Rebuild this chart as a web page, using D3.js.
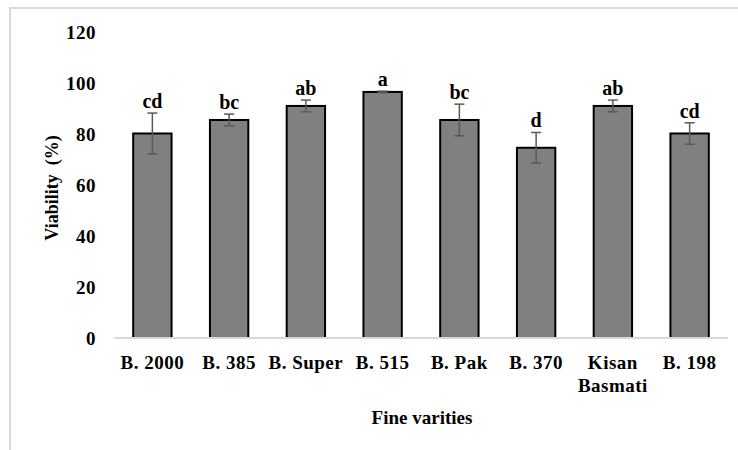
<!DOCTYPE html>
<html>
<head>
<meta charset="utf-8">
<script src="https://cdn.jsdelivr.net/npm/d3@7"></script>
<style>
  body { margin: 0; background: #fff; }
  svg text { font-family: "Liberation Serif", "Times New Roman", Times, "DejaVu Serif", serif; font-weight: bold; fill: #000; }
</style>
</head>
<body>
<div id="chart"></div>
<script>
// data
var varieties = ["B. 2000", "B. 385", "B. Super", "B. 515", "B. Pak", "B. 370", "Kisan Basmati", "B. 198"];
var viability = [80.2, 85.5, 91, 96.5, 85.5, 74.6, 91, 80.2];
var errors = [8, 2.3, 2.3, 0.3, 6.2, 6, 2.3, 4.2];
var letters = ["cd", "bc", "ab", "a", "bc", "d", "ab", "cd"];
var yTicks = [0, 20, 40, 60, 80, 100, 120];

var svgwidth = 738, svgheight = 450;
var margin = {top: 32, left: 114};
var width = 728 - margin.left;
var height = 338 - margin.top;

var svg = d3.select("#chart").append("svg")
    .attr("width", svgwidth)
    .attr("height", svgheight);

// chart frame (cut off at right/bottom like the original)
svg.append("rect")
    .attr("x", 10).attr("y", 8)
    .attr("width", 760).attr("height", 480)
    .attr("fill", "none")
    .attr("stroke", "#d9d9d9")
    .attr("stroke-width", 2);

var g = svg.append("g")
    .attr("transform", "translate(" + margin.left + "," + margin.top + ")");

var x = d3.scaleBand().domain(varieties).range([0, width]).paddingInner(0.5).paddingOuter(0.25);
var y = d3.scaleLinear().domain([0, 120]).range([height, 0]);

// y tick labels, no axis line
var yAxisg = g.append("g")
    .call(d3.axisLeft(y).tickValues(yTicks).tickSize(0).tickPadding(18));
yAxisg.select(".domain").remove();
yAxisg.selectAll("text")
    .attr("fill", "#000")
    .style("font-size", "19px")
    .style("letter-spacing", "0.5px");

// bars
g.selectAll(".bar")
    .data(varieties)
    .enter().append("rect")
    .attr("class", "bar")
    .attr("x", function(d) { return x(d); })
    .attr("y", function(d, i) { return y(viability[i]); })
    .attr("width", x.bandwidth())
    .attr("height", function(d, i) { return height - y(viability[i]); })
    .attr("fill", "#808080")
    .attr("stroke", "#000")
    .attr("stroke-width", 2);

// x axis line
g.append("line")
    .attr("x1", 0).attr("x2", width)
    .attr("y1", height).attr("y2", height)
    .attr("stroke", "#d9d9d9")
    .attr("stroke-width", 2);

// error bars
var eb = g.selectAll(".err")
    .data(varieties)
    .enter().append("g")
    .attr("class", "err")
    .attr("transform", function(d) { return "translate(" + (x(d) + x.bandwidth() / 2) + ",0)"; });
eb.append("line")
    .attr("y1", function(d, i) { return y(viability[i] + errors[i]); })
    .attr("y2", function(d, i) { return y(viability[i] - errors[i]); })
    .attr("stroke", "#595959").attr("stroke-width", 1.5);
eb.append("line")
    .attr("x1", -5).attr("x2", 5)
    .attr("y1", function(d, i) { return y(viability[i] + errors[i]); })
    .attr("y2", function(d, i) { return y(viability[i] + errors[i]); })
    .attr("stroke", "#595959").attr("stroke-width", 1.5);
eb.append("line")
    .attr("x1", -5).attr("x2", 5)
    .attr("y1", function(d, i) { return y(viability[i] - errors[i]); })
    .attr("y2", function(d, i) { return y(viability[i] - errors[i]); })
    .attr("stroke", "#595959").attr("stroke-width", 1.5);

// significance letters
eb.append("text")
    .attr("y", function(d, i) { return y(viability[i] + errors[i]) - 5; })
    .attr("text-anchor", "middle")
    .style("font-size", "20px")
    .text(function(d, i) { return letters[i]; });

// category labels (wrap two-word long names)
var xl = g.selectAll(".xlabel")
    .data(varieties)
    .enter().append("text")
    .attr("class", "xlabel")
    .attr("text-anchor", "middle")
    .attr("x", function(d) { return x(d) + x.bandwidth() / 2; })
    .attr("y", height + 31)
    .style("font-size", "19px")
    .style("letter-spacing", "0.5px");
xl.each(function(d) {
    var parts = d.indexOf("B.") === 0 ? [d] : d.split(" ");
    var t = d3.select(this);
    parts.forEach(function(p, k) {
        t.append("tspan")
            .attr("x", t.attr("x"))
            .attr("dy", k === 0 ? 0 : "1.2em")
            .text(p);
    });
});

// axis titles
svg.append("text")
    .attr("x", 422).attr("y", 424)
    .attr("text-anchor", "middle")
    .style("font-size", "19px")
    .text("Fine varities");

svg.append("text")
    .attr("transform", "translate(58,188) rotate(-90)")
    .attr("text-anchor", "middle")
    .style("font-size", "18px")
    .text("Viability\u00a0\u00a0(%)");
</script>
</body>
</html>
